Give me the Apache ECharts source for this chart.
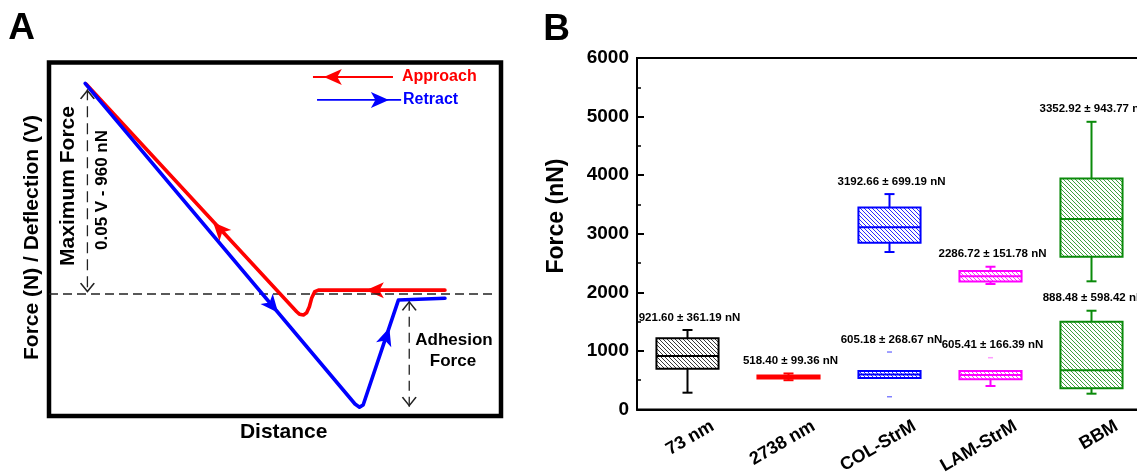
<!DOCTYPE html>
<html>
<head>
<meta charset="utf-8">
<title>AFM force curve and adhesion force</title>
<script src="https://cdn.jsdelivr.net/npm/echarts@6/dist/echarts.min.js"></script>
<style>
  html, body { margin: 0; padding: 0; background: #fff; }
  #chart { width: 1137px; height: 474px; }
</style>
</head>
<body>
<div id="chart"></div>
<script>
// ---------- Panel A: schematic force–distance curve (arbitrary units 0–100) ----------
const approachCurve = [[87.6, 35.6], [59.6, 35.6], [58.8, 35.2], [58.1, 33.3], [57.6, 30.9],
                       [57.0, 29.2], [56.3, 28.6], [55.4, 28.8], [54.8, 29.5], [8.2, 93.9]];
const retractCurve  = [[8.0, 94.1], [67.7, 3.4], [68.7, 2.5], [69.5, 3.1], [77.3, 32.8],
                       [77.7, 33.3], [87.6, 33.3]];
const zeroDeflection = [[0, 34.5], [99, 34.5]];
const maxForceSpan   = [[8.5, 92.4], [8.5, 34.9]];
const adhesionSpan   = [[79.7, 32.6], [79.7, 2.6]];
const approachKey    = [[58.4, 95.9], [76.1, 95.9]];
const retractKey     = [[59.3, 89.4], [77.9, 89.4]];
// direction arrows along the curves: position and heading (degrees)
const approachArrows = [[36.3, 54.8], [70.1, 35.6], [60.8, 95.9]];
const approachHeading = [42.8, 90, 90];
const retractArrows  = [[50.7, 29.2], [75.3, 25.0], [75.2, 89.4]];
const retractHeading = [-140.1, -18.4, -90];
// open arrow heads closing the dimension lines
const spanHeadsUp   = [[8.5, 91.0], [79.7, 31.2]];
const spanHeadsDown = [[8.5, 36.3], [79.7, 4.0]];

// ---------- Panel B: force statistics ----------
const categories  = ['73 nm', '2738 nm', 'COL-StrM', 'LAM-StrM', 'BBM'];
const boxGroup    = [0, 1, 2, 2, 3, 3, 4, 4];
const whiskerLow  = [287, 500, 2688, 538, 2142, 401, 2188, 270];
const quartile1   = [696, 530, 2846, 538, 2184, 515, 2608, 362];
const medians     = [913, 555, 3109, 597, 2273, 589, 3251, 669];
const quartile3   = [1215, 580, 3450, 657, 2363, 657, 3945, 1498];
const whiskerHigh = [1357, 615, 3677, 657, 2437, 657, 4911, 1686];
const meanLabels  = ['921.60 ± 361.19 nN', '518.40 ± 99.36 nN', '3192.66 ± 699.19 nN',
                     '605.18 ± 268.67 nN', '2286.72 ± 151.78 nN', '605.41 ± 166.39 nN',
                     '3352.92 ± 943.77 nN', '888.48 ± 598.42 nN'];
const extremeBox    = [3, 3, 5];
const extremeValues = [981, 218, 884];

const groupColors = ['#000000', '#ff0000', '#0000ff', '#ff00ff', '#0a8a0a'];
const hatchColors = ['#3a3a3a', '#ff0000', '#2a2aff', '#ff33ff', '#3f9f3f'];
const extremeColors = ['#000', '#f00', '#8080ff', '#ff9cff', '#3f9f3f'];
const FONT = '"Liberation Sans", Arial, Helvetica, sans-serif';

function hatch(color, solid) {
  const c = document.createElement('canvas');
  c.width = 4; c.height = 4;
  const ctx = c.getContext('2d');
  ctx.fillStyle = solid ? color : '#ffffff';
  ctx.fillRect(0, 0, 4, 4);
  if (!solid) {
    ctx.strokeStyle = color;
    ctx.lineWidth = 1;
    ctx.beginPath();
    ctx.moveTo(-1, -1); ctx.lineTo(5, 5);
    ctx.moveTo(-1, 3); ctx.lineTo(1, 5);
    ctx.moveTo(3, -1); ctx.lineTo(5, 1);
    ctx.stroke();
  }
  return { image: c, repeat: 'repeat' };
}
const hatchFills = hatchColors.map((c, g) => hatch(c, g === 1));

const boxRows = boxGroup.map((g, i) => {
  let top = whiskerHigh[i];
  extremeBox.forEach((b, k) => { if (b === i) top = Math.max(top, extremeValues[k]); });
  return [g, whiskerLow[i], quartile1[i], medians[i], quartile3[i], whiskerHigh[i], top];
});

function renderBox(params, api) {
  const i = params.dataIndex;
  const g = api.value(0);
  const color = groupColors[g];
  const bw = api.size([1, 0])[0] * 0.615;
  const cx = api.coord([g, 0])[0];
  const y = k => api.coord([g, api.value(k)])[1];
  const yLow = y(1), yQ1 = y(2), yMed = y(3), yQ3 = y(4), yHigh = y(5), yTop = y(6);
  const lw = { stroke: color, lineWidth: 2 };
  const kids = [];
  if (api.value(5) > api.value(4)) {
    kids.push({ type: 'line', shape: { x1: cx, y1: yQ3, x2: cx, y2: yHigh }, style: lw });
    kids.push({ type: 'line', shape: { x1: cx - 5, y1: yHigh, x2: cx + 5, y2: yHigh }, style: lw });
  }
  if (api.value(1) < api.value(2)) {
    kids.push({ type: 'line', shape: { x1: cx, y1: yQ1, x2: cx, y2: yLow }, style: lw });
    kids.push({ type: 'line', shape: { x1: cx - 5, y1: yLow, x2: cx + 5, y2: yLow }, style: lw });
  }
  kids.push({ type: 'rect', shape: { x: cx - bw / 2, y: yQ3, width: bw, height: yQ1 - yQ3 },
              style: { fill: hatchFills[g], stroke: color, lineWidth: 2 } });
  kids.push({ type: 'line', shape: { x1: cx - bw / 2, y1: yMed, x2: cx + bw / 2, y2: yMed }, style: lw });
  kids.push({ type: 'text', x: cx + 2, y: yTop - 12.5,
              style: { text: meanLabels[i], fill: '#000', fontSize: 11.5, fontWeight: 'bold',
                       fontFamily: FONT, align: 'center', verticalAlign: 'middle' } });
  return { type: 'group', children: kids };
}

const chevron = 'path://M0,10L7.5,0L15,10L13.6,10.8L7.5,2.6L1.4,10.8Z';
const lineBase = { type: 'line', xAxisIndex: 0, yAxisIndex: 0, symbol: 'none', silent: true };

const chart = echarts.init(document.getElementById('chart'), null, { renderer: 'canvas' });
chart.setOption({
  animation: false,
  backgroundColor: '#ffffff',
  textStyle: { fontFamily: FONT },
  grid: [
    { left: 49, top: 62.5, width: 452, height: 353.5, show: true, borderColor: '#000',
      borderWidth: 4.5, backgroundColor: 'transparent', containLabel: false, outerBoundsMode: 'none' },
    { left: 637, top: 58, width: 505, height: 351.5, show: true, borderColor: '#000',
      borderWidth: 2, backgroundColor: 'transparent', containLabel: false, outerBoundsMode: 'none' }
  ],
  xAxis: [
    { type: 'value', gridIndex: 0, min: 0, max: 100, show: false },
    { type: 'category', gridIndex: 1, data: categories, boundaryGap: true,
      axisLine: { lineStyle: { color: '#000', width: 2 } },
      axisTick: { show: false },
      axisLabel: { interval: 0, rotate: 30, margin: 30, padding: [0, -29, 0, 0],
                   color: '#000', fontSize: 18, fontWeight: 'bold', fontFamily: FONT } }
  ],
  yAxis: [
    { type: 'value', gridIndex: 0, min: 0, max: 100, show: false },
    { type: 'value', gridIndex: 1, min: 0, max: 6000, interval: 1000,
      axisLine: { show: true, lineStyle: { color: '#000', width: 2 } },
      axisTick: { show: true, inside: true, length: 7, lineStyle: { color: '#000', width: 2 } },
      minorTick: { show: true, splitNumber: 2, length: 4, lineStyle: { color: '#000', width: 1.5 } },
      splitLine: { show: false },
      axisLabel: { margin: 8, color: '#000', fontSize: 19, fontWeight: 'bold', fontFamily: FONT,
                   formatter: v => String(v) } }
  ],
  series: [
    Object.assign({}, lineBase, { name: 'zero', data: zeroDeflection,
      lineStyle: { color: '#222', width: 1.5, type: [9, 5] } }),
    Object.assign({}, lineBase, { name: 'max force', data: maxForceSpan,
      lineStyle: { color: '#222', width: 1.3, type: [11, 6] } }),
    Object.assign({}, lineBase, { name: 'adhesion', data: adhesionSpan,
      lineStyle: { color: '#222', width: 1.3, type: [10, 6] } }),
    Object.assign({}, lineBase, { name: 'Approach', data: approachCurve,
      lineStyle: { color: '#ff0000', width: 3.6, join: 'round', cap: 'round' } }),
    Object.assign({}, lineBase, { name: 'Retract', data: retractCurve,
      lineStyle: { color: '#0000ff', width: 3.6, join: 'round', cap: 'round' } }),
    Object.assign({}, lineBase, { name: 'Approach key', data: approachKey,
      lineStyle: { color: '#ff0000', width: 1.8 } }),
    Object.assign({}, lineBase, { name: 'Retract key', data: retractKey,
      lineStyle: { color: '#0000ff', width: 1.8 } }),
    { type: 'scatter', xAxisIndex: 0, yAxisIndex: 0, silent: true, symbol: 'arrow', symbolSize: [12, 18],
      itemStyle: { color: '#ff0000', opacity: 1 },
      data: approachArrows.map((p, k) => ({ value: p, symbolRotate: approachHeading[k] })) },
    { type: 'scatter', xAxisIndex: 0, yAxisIndex: 0, silent: true, symbol: 'arrow', symbolSize: [12, 18],
      itemStyle: { color: '#0000ff', opacity: 1 },
      data: retractArrows.map((p, k) => ({ value: p, symbolRotate: retractHeading[k] })) },
    { type: 'scatter', xAxisIndex: 0, yAxisIndex: 0, silent: true, symbol: chevron, symbolSize: [15, 10],
      itemStyle: { color: '#222', opacity: 1 },
      data: spanHeadsUp.map(p => ({ value: p })).concat(spanHeadsDown.map(p => ({ value: p, symbolRotate: 180 }))) },
    { type: 'custom', name: 'force', xAxisIndex: 1, yAxisIndex: 1, silent: true, clip: false,
      renderItem: renderBox, encode: { x: 0, y: [1, 2, 3, 4, 5] }, data: boxRows },
    { type: 'scatter', name: 'extremes', xAxisIndex: 1, yAxisIndex: 1, silent: true,
      symbol: 'rect', symbolSize: [5, 1.5],
      data: extremeBox.map((b, k) => ({ value: [boxGroup[b], extremeValues[k]],
                                         itemStyle: { color: extremeColors[boxGroup[b]], opacity: 1 } })) }
  ],
  graphic: [
    { type: 'text', x: 21.7, y: 28.5, style: { text: 'A', fill: '#000', fontSize: 37, fontWeight: 'bold', fontFamily: FONT, align: 'center', verticalAlign: 'middle' } },
    { type: 'text', x: 556.5, y: 30, style: { text: 'B', fill: '#000', fontSize: 37, fontWeight: 'bold', fontFamily: FONT, align: 'center', verticalAlign: 'middle' } },
    { type: 'text', x: 402, y: 77, style: { text: 'Approach', fill: '#ff0000', fontSize: 16, fontWeight: 'bold', fontFamily: FONT, align: 'left', verticalAlign: 'middle' } },
    { type: 'text', x: 403, y: 100, style: { text: 'Retract', fill: '#0000ff', fontSize: 16, fontWeight: 'bold', fontFamily: FONT, align: 'left', verticalAlign: 'middle' } },
    { type: 'text', x: 68.5, y: 186, rotation: Math.PI / 2, style: { text: 'Maximum Force', fill: '#000', fontSize: 21, fontWeight: 'bold', fontFamily: FONT, align: 'center', verticalAlign: 'middle' } },
    { type: 'text', x: 102, y: 190, rotation: Math.PI / 2, style: { text: '0.05 V - 960 nN', fill: '#000', fontSize: 17, fontWeight: 'bold', fontFamily: FONT, align: 'center', verticalAlign: 'middle' } },
    { type: 'text', x: 32, y: 237.5, rotation: Math.PI / 2, style: { text: 'Force (N) / Deflection (V)', fill: '#000', fontSize: 21, fontWeight: 'bold', fontFamily: FONT, align: 'center', verticalAlign: 'middle' } },
    { type: 'text', x: 283.7, y: 432.5, style: { text: 'Distance', fill: '#000', fontSize: 21, fontWeight: 'bold', fontFamily: FONT, align: 'center', verticalAlign: 'middle' } },
    { type: 'text', x: 454, y: 340, style: { text: 'Adhesion', fill: '#000', fontSize: 17, fontWeight: 'bold', fontFamily: FONT, align: 'center', verticalAlign: 'middle' } },
    { type: 'text', x: 453, y: 361, style: { text: 'Force', fill: '#000', fontSize: 17, fontWeight: 'bold', fontFamily: FONT, align: 'center', verticalAlign: 'middle' } },
    { type: 'text', x: 556.7, y: 216, rotation: Math.PI / 2, style: { text: 'Force (nN)', fill: '#000', fontSize: 23, fontWeight: 'bold', fontFamily: FONT, align: 'center', verticalAlign: 'middle' } }
  ]
});
</script>
</body>
</html>
